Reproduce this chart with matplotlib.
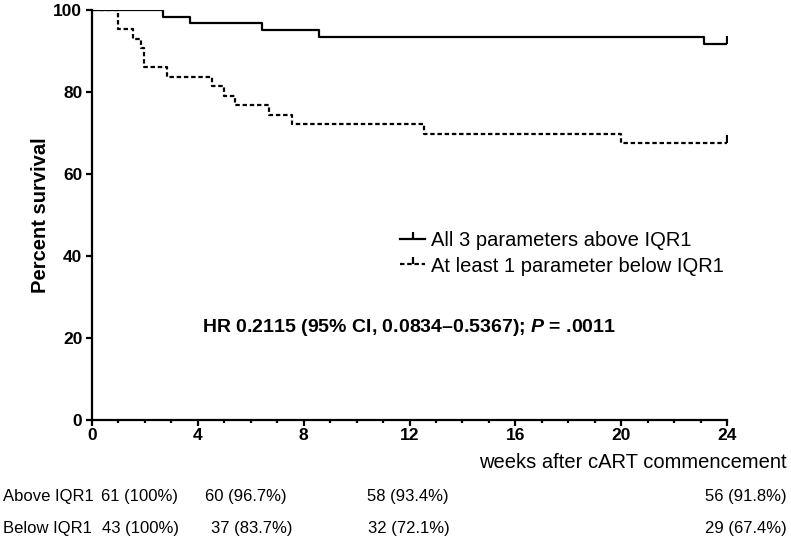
import matplotlib
matplotlib.use("Agg")
from matplotlib import pyplot as plt
from matplotlib.lines import Line2D
from matplotlib.ticker import MultipleLocator

plt.rcParams['font.family'] = ['Liberation Sans', 'DejaVu Sans']
plt.rcParams['mathtext.fontset'] = 'custom'
plt.rcParams['mathtext.it'] = 'Liberation Sans:italic:bold'
plt.rcParams['mathtext.rm'] = 'Liberation Sans:bold'

# Kaplan-Meier steps (weeks, percent survival)
above_weeks = [0, 2.70, 3.70, 6.42, 8.58, 23.13, 24]
above_surv = [100, 98.36, 96.72, 95.08, 93.44, 91.80, 91.80]

below_weeks = [0, 0.97, 1.54, 1.84, 1.98, 2.82, 4.55, 4.99, 5.40, 6.70, 7.55, 12.55, 20.0, 24]
below_surv = [100, 95.35, 93.02, 90.70, 86.05, 83.72, 81.40, 79.07, 76.74, 74.42, 72.09, 69.77, 67.44, 67.44]

labels = ["All 3 parameters above IQR1", "At least 1 parameter below IQR1"]

# numbers at risk table
row_names = ["Above IQR1", "Below IQR1"]
above_at_risk = ["61 (100%)", "60 (96.7%)", "58 (93.4%)", "56 (91.8%)"]
below_at_risk = ["43 (100%)", "37 (83.7%)", "32 (72.1%)", "29 (67.4%)"]

W, H = 791, 544
fig = plt.figure(figsize=(W / 100, H / 100), dpi=100)
ax = fig.add_axes([92 / W, 1 - 420 / H, 635 / W, 410 / H])

lw = 1.6
dash = (0, (2.0, 1.25))
ax.step(above_weeks, above_surv, where='post', color='black', linewidth=lw, label=labels[0])
ax.step(below_weeks, below_surv, where='post', color='black', linewidth=lw,
        linestyle=dash, label=labels[1])
# censor ticks at end of follow-up (pointing up)
ax.plot(above_weeks[-1], above_surv[-1], marker=2, color='black', markersize=6, mew=lw)
ax.plot(below_weeks[-1], below_surv[-1], marker=2, color='black', markersize=6, mew=lw)

ax.set_xlim(0, 24)
ax.set_ylim(0, 100)
ax.xaxis.set_major_locator(MultipleLocator(4))
ax.xaxis.set_minor_locator(MultipleLocator(1))
ax.yaxis.set_major_locator(MultipleLocator(20))

for side in ['top', 'right']:
    ax.spines[side].set_visible(False)
for side in ['left', 'bottom']:
    ax.spines[side].set_linewidth(lw)

ax.tick_params(axis='both', which='major', direction='out', width=lw, length=4.5,
               labelsize=12.5, pad=2.5)
ax.tick_params(axis='x', which='major', pad=1.5)
ax.tick_params(axis='x', which='minor', direction='out', width=lw, length=2.5)
for lab in ax.get_xticklabels() + ax.get_yticklabels():
    lab.set_fontweight('bold')

ax.set_ylabel("Percent survival", fontsize=14.5, fontweight='bold')
ax.yaxis.set_label_coords((50 - 92) / 635, 0.5)

# legend handles carry a censor tick in the middle
handles = [
    Line2D([0], [0], color='black', linewidth=lw, marker=2, markersize=5, mew=lw),
    Line2D([0], [0], color='black', linewidth=lw, linestyle=dash,
           marker=2, markersize=5, mew=lw),
]
ax.legend(handles, labels, loc='center left', bbox_to_anchor=(400 / W, 1 - 253.5 / H),
          bbox_transform=fig.transFigure, frameon=False, fontsize=14.5,
          handlelength=1.25, handletextpad=0.3, labelspacing=0.3,
          borderpad=0, borderaxespad=0)

ax.text(12, 22.5, "HR 0.2115 (95% CI, 0.0834\u20130.5367); $P$ = .0011",
        ha='center', va='center', fontsize=14, fontweight='bold')

# x label and at-risk table below the axis
fig.text(787 / W, 1 - 463 / H, "weeks after cART commencement", ha='right', va='center',
         fontsize=14.5)

col_left = [101, 205, 367]
below_left = [102, 211, 368]
for row_y, name, values, lefts in [(497, row_names[0], above_at_risk, col_left),
                                   (528, row_names[1], below_at_risk, below_left)]:
    y = 1 - row_y / H
    fig.text(3 / W, y, name, ha='left', va='center', fontsize=12)
    for v, x in zip(values[:3], lefts):
        fig.text(x / W, y, v, ha='left', va='center', fontsize=12)
    fig.text(787 / W, y, values[3], ha='right', va='center', fontsize=12)

fig.savefig("out.png", dpi=100)
